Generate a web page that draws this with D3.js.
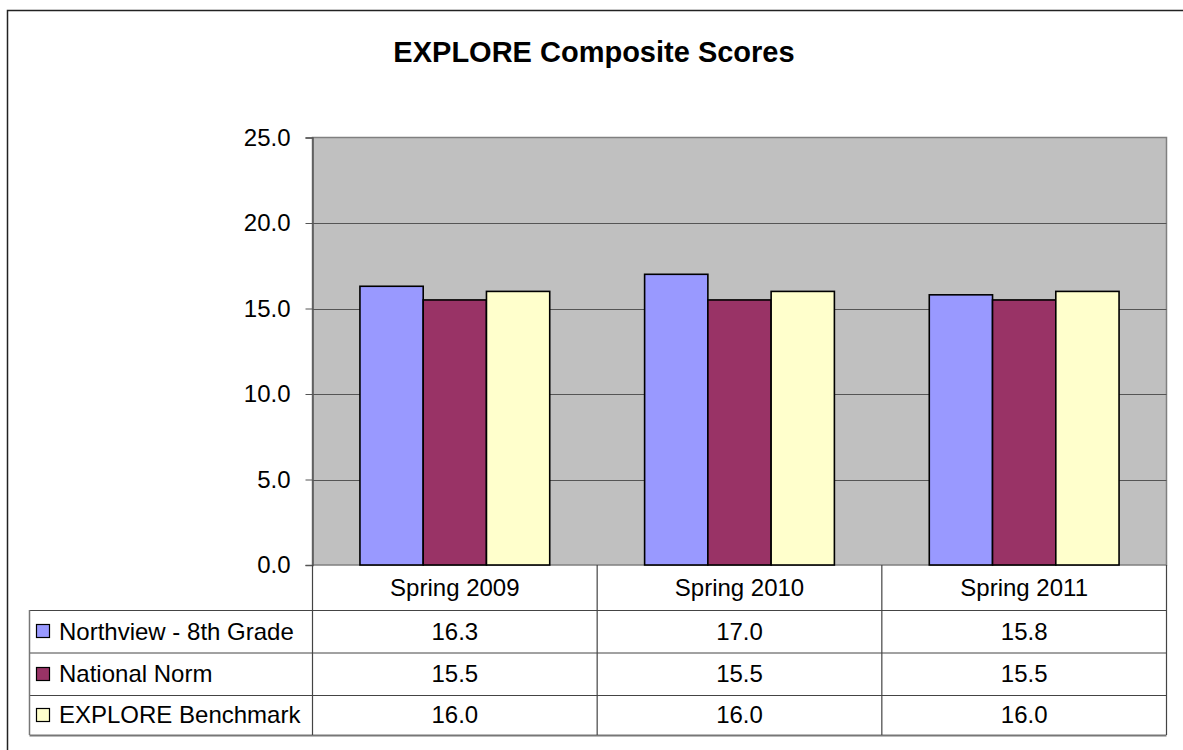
<!DOCTYPE html>
<html>
<head>
<meta charset="utf-8">
<script src="https://cdn.jsdelivr.net/npm/d3@7"></script>
<style>
  body { margin: 0; background: #fff; }
  svg { display: block; font-family: "Liberation Sans", Arial, Helvetica, sans-serif; }
</style>
</head>
<body>
<svg width="1183" height="750"></svg>
<script>
var categories = ["Spring 2009", "Spring 2010", "Spring 2011"];
var seriesNames = ["Northview - 8th Grade", "National Norm", "EXPLORE Benchmark"];
var northview = [16.3, 17.0, 15.8];
var nationalNorm = [15.5, 15.5, 15.5];
var benchmark = [16.0, 16.0, 16.0];
var yTicks = [0, 5, 10, 15, 20, 25];
var colors = ["#9999FF", "#993366", "#FFFFCC"];

var series = [northview, nationalNorm, benchmark];

var svg = d3.select("svg");

// outer chart frame (runs off the right and bottom edge)
svg.append("rect")
    .attr("x", 7.5).attr("y", 10.5)
    .attr("width", 1200).attr("height", 800)
    .attr("fill", "#fff")
    .attr("stroke", "#222").attr("stroke-width", 1.5);

svg.append("text")
    .attr("x", 594).attr("y", 62)
    .attr("text-anchor", "middle")
    .style("font-size", "29px").style("font-weight", "bold")
    .text("EXPLORE Composite Scores");

var plotLeft = 312.5, plotRight = 1166.5, plotTop = 137.5, plotBottom = 565;

var x = d3.scaleBand().domain(categories).range([plotLeft, plotRight]);
var y = d3.scaleLinear().domain([0, 25]).range([plotBottom, plotTop]);
var xs = d3.scaleBand().domain(d3.range(series.length))
    .range([0, x.bandwidth()]).paddingOuter(0.75).paddingInner(0);

// plot area
svg.append("rect")
    .attr("x", plotLeft).attr("y", plotTop)
    .attr("width", plotRight - plotLeft).attr("height", plotBottom - plotTop)
    .attr("fill", "#C0C0C0")
    .attr("stroke", "#808080").attr("stroke-width", 1.5);

svg.append("g").selectAll("line")
    .data(yTicks.filter(function(d) { return d > 0 && d < 25; }))
    .enter().append("line")
    .attr("x1", plotLeft).attr("x2", plotRight)
    .attr("y1", function(d) { return Math.round(y(d)) + 0.5; })
    .attr("y2", function(d) { return Math.round(y(d)) + 0.5; })
    .attr("stroke", "#555").attr("stroke-width", 1);

// bars
series.forEach(function(vals, si) {
    svg.append("g").selectAll("rect")
        .data(vals).enter()
        .append("rect")
        .attr("x", function(d, i) { return x(categories[i]) + xs(si); })
        .attr("y", function(d) { return y(d); })
        .attr("width", xs.bandwidth())
        .attr("height", function(d) { return plotBottom - y(d); })
        .attr("fill", colors[si])
        .attr("stroke", "#000").attr("stroke-width", 1.6);
});

// y axis
var yAxis = svg.append("g")
    .attr("transform", "translate(" + plotLeft + ",0)")
    .call(d3.axisLeft(y).tickValues(yTicks).tickFormat(d3.format(".1f"))
        .tickSize(7).tickPadding(15));
yAxis.select(".domain").attr("stroke", "#555").attr("stroke-width", 1.5);
yAxis.selectAll(".tick line").attr("stroke", "#555");
yAxis.selectAll("text")
    .style("font-size", "24px").attr("fill", "#000")
    .style("font-family", "'Liberation Sans', Arial, sans-serif");

// data table
var rowTops = [565, 610, 652.5, 695, 735];
var tableLeft = 29.5;
var lineColor = "#444";
var table = svg.append("g");

rowTops.slice(1).forEach(function(ry, i) {
    table.append("line")
        .attr("x1", tableLeft).attr("x2", plotRight)
        .attr("y1", ry + 0.5).attr("y2", ry + 0.5)
        .attr("stroke", i === 3 ? "#777" : lineColor)
        .attr("stroke-width", i === 3 ? 2 : 1);
});
table.append("line")
    .attr("x1", tableLeft).attr("x2", tableLeft)
    .attr("y1", rowTops[1]).attr("y2", rowTops[4])
    .attr("stroke", "#777").attr("stroke-width", 1.5);

[plotLeft].concat(categories.map(function(c) { return x(c) + x.bandwidth(); }))
    .forEach(function(vx) {
        table.append("line")
            .attr("x1", vx).attr("x2", vx)
            .attr("y1", rowTops[0]).attr("y2", rowTops[4])
            .attr("stroke", lineColor).attr("stroke-width", 1.2);
    });

table.selectAll(".cat")
    .data(categories).enter()
    .append("text")
    .attr("x", function(d) { return x(d) + x.bandwidth() / 2; })
    .attr("y", (rowTops[0] + rowTops[1]) / 2)
    .attr("dy", "0.35em")
    .attr("text-anchor", "middle")
    .style("font-size", "24px")
    .text(function(d) { return d; });

series.forEach(function(vals, si) {
    var cy = (rowTops[si + 1] + rowTops[si + 2]) / 2;
    table.append("rect")
        .attr("x", 36.5).attr("y", Math.round(cy - 7) + 0.5)
        .attr("width", 13).attr("height", 13)
        .attr("fill", colors[si]).attr("stroke", "#000").attr("stroke-width", 1.2);
    table.append("text")
        .attr("x", 59).attr("y", cy).attr("dy", "0.35em")
        .style("font-size", "24px")
        .text(seriesNames[si]);
    table.append("g").selectAll("text")
        .data(vals).enter()
        .append("text")
        .attr("x", function(d, i) { return x(categories[i]) + x.bandwidth() / 2; })
        .attr("y", cy).attr("dy", "0.35em")
        .attr("text-anchor", "middle")
        .style("font-size", "24px")
        .text(function(d) { return d.toFixed(1); });
});
</script>
</body>
</html>
